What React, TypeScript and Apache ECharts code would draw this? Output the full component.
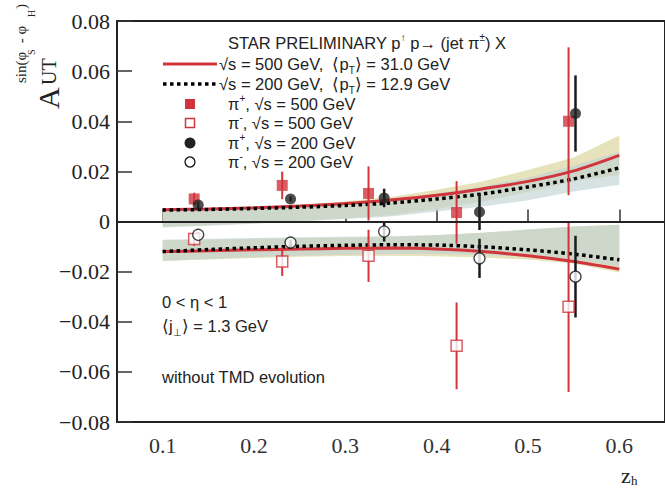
import React, { useEffect, useRef } from "react";
import * as echarts from "echarts";

// ---- data ----
const zGrid = [0.1, 0.15, 0.2, 0.25, 0.3, 0.35, 0.4, 0.45, 0.5, 0.55, 0.6];

const red500Pos = [0.0047, 0.005, 0.0055, 0.0062, 0.0072, 0.0086, 0.0105, 0.013, 0.016, 0.0202, 0.0264];
const black200Pos = [0.0046, 0.0048, 0.0052, 0.0057, 0.0064, 0.0074, 0.009, 0.011, 0.0138, 0.017, 0.0214];
const red500Neg = [-0.012, -0.0117, -0.0113, -0.011, -0.0107, -0.0106, -0.011, -0.012, -0.0137, -0.016, -0.019];
const black200Neg = [-0.012, -0.0112, -0.0105, -0.0099, -0.0095, -0.0093, -0.0094, -0.0101, -0.0113, -0.013, -0.0153];

const yellowPosUpper = [0.005, 0.0054, 0.006, 0.0068, 0.008, 0.0098, 0.0127, 0.016, 0.0205, 0.0255, 0.0343];
const yellowPosLower = [-0.0022, -0.0015, -0.0007, 0.0002, 0.0012, 0.0025, 0.005, 0.008, 0.0118, 0.016, 0.0187];
const bluePosUpper = [0.005, 0.0053, 0.0058, 0.0064, 0.0074, 0.0088, 0.0112, 0.014, 0.0175, 0.0222, 0.0278];
const bluePosLower = [-0.0024, -0.0017, -0.0009, 0.0, 0.001, 0.002, 0.004, 0.006, 0.0085, 0.012, 0.0147];

const yellowNegUpper = [-0.0075, -0.0072, -0.0069, -0.0066, -0.0064, -0.0061, -0.0055, -0.0045, -0.0032, -0.002, -0.0013];
const yellowNegLower = [-0.0158, -0.0152, -0.0146, -0.0141, -0.0138, -0.0137, -0.0139, -0.0144, -0.0152, -0.0168, -0.0203];
const blueNegUpper = [-0.0073, -0.0069, -0.0066, -0.0063, -0.0061, -0.0059, -0.0054, -0.0045, -0.0032, -0.002, -0.0013];
const blueNegLower = [-0.0158, -0.015, -0.0143, -0.0137, -0.0133, -0.013, -0.013, -0.0134, -0.014, -0.0152, -0.018];

const z500 = [0.1345, 0.2309, 0.3254, 0.4218, 0.5444];
const piPlus500 = [0.009, 0.0144, 0.0112, 0.0036, 0.04];
const piPlus500Err = [0.0025, 0.0055, 0.0108, 0.0125, 0.0295];
const piMinus500 = [-0.007, -0.016, -0.0137, -0.0496, -0.034];
const piMinus500Err = [0.0027, 0.0057, 0.0104, 0.0173, 0.034];

const z200 = [0.1389, 0.24, 0.3425, 0.4469, 0.552];
const piPlus200 = [0.0066, 0.009, 0.0094, 0.0038, 0.0431];
const piPlus200Err = [0.0012, 0.001, 0.0037, 0.0072, 0.0152];
const piMinus200 = [-0.0053, -0.0084, -0.004, -0.0147, -0.022];
const piMinus200Err = [0.001, 0.001, 0.004, 0.0078, 0.0163];

const xTicks = [0.1, 0.2, 0.3, 0.4, 0.5, 0.6];

const RED = "#d0353c";
const BLACK = "#1a1a1a";
const SANS = "'Liberation Sans', Arial, sans-serif";
const SERIF = "'Liberation Serif', 'Times New Roman', serif";

function bandSeries(upper: number[], lower: number[], fill: string, z: number) {
  const rows = zGrid.map((x, i) => [x, lower[i], upper[i]]);
  return {
    type: "custom",
    data: rows,
    encode: { x: 0, y: [1, 2] },
    z,
    silent: true,
    renderItem: (params: any, api: any) => {
      if (params.dataIndex !== 0) return null;
      const pts: number[][] = [];
      rows.forEach((r) => pts.push(api.coord([r[0], r[2]])));
      for (let i = rows.length - 1; i >= 0; i--) pts.push(api.coord([rows[i][0], rows[i][1]]));
      return { type: "polygon", shape: { points: pts }, style: { fill } };
    },
  };
}

function curveSeries(vals: number[], color: string, dashed: boolean, z: number, extra: any = {}) {
  return {
    type: "line",
    data: zGrid.map((x, i) => [x, vals[i]]),
    smooth: 0.3,
    showSymbol: false,
    silent: true,
    z,
    lineStyle: dashed
      ? { color, width: 3.5, type: [3.5, 3.5], cap: "butt" }
      : { color, width: 3 },
    ...extra,
  };
}

function errSeries(xs: number[], ys: number[], es: number[], color: string, width: number) {
  return {
    type: "custom",
    data: xs.map((x, i) => [x, ys[i], es[i]]),
    encode: { x: 0, y: 1 },
    z: 4,
    silent: true,
    renderItem: (_p: any, api: any) => {
      const x = api.value(0), y = api.value(1), e = api.value(2);
      const a = api.coord([x, y + e]);
      const b = api.coord([x, y - e]);
      return { type: "line", shape: { x1: a[0], y1: a[1], x2: b[0], y2: b[1] }, style: { stroke: color, lineWidth: width } };
    },
  };
}

function markerSeries(xs: number[], ys: number[], symbol: string, itemStyle: any, size: number) {
  return {
    type: "scatter",
    data: xs.map((x, i) => [x, ys[i]]),
    symbol,
    symbolSize: size,
    itemStyle,
    z: 6,
    silent: true,
  };
}

const richLegend = {
  sup: { fontSize: 10, fontFamily: SANS, fill: "#222", verticalAlign: "top", lineHeight: 12 },
  sub: { fontSize: 10, fontFamily: SANS, fill: "#222", verticalAlign: "bottom", lineHeight: 12 },
};

function legText(x: number, y: number, text: string) {
  return {
    type: "text",
    x,
    y,
    style: {
      text,
      fontSize: 16.5,
      fontFamily: SANS,
      fill: "#222",
      verticalAlign: "middle",
      align: "left",
      lineHeight: 22,
      rich: richLegend,
    },
  };
}

function rotText(x: number, y: number, text: string, size: number) {
  return {
    type: "text",
    x,
    y,
    rotation: Math.PI / 2,
    style: { text, fontSize: size, fontFamily: SERIF, fill: "#222", align: "left", verticalAlign: "middle" },
  };
}

export default function App() {
  const ref = useRef<HTMLDivElement>(null);
  useEffect(() => {
    const chart = echarts.init(ref.current!, null, { renderer: "svg" });
    const option: any = {
      animation: false,
      backgroundColor: "#fff",
      grid: { left: 117, right: -3, top: 21, bottom: 67, show: true, borderColor: "#222", borderWidth: 2 },
      xAxis: {
        type: "value",
        min: 0.05,
        max: 0.65,
        axisLine: { show: true, lineStyle: { color: "#222", width: 2 } },
        axisTick: { show: true, inside: true, length: 12, customValues: xTicks, lineStyle: { color: "#333", width: 1.5 } },
        axisLabel: {
          customValues: xTicks,
          margin: 12,
          fontSize: 22,
          fontFamily: SERIF,
          color: "#333",
          formatter: (v: number) => v.toFixed(1),
        },
        splitLine: { show: false },
      },
      yAxis: {
        type: "value",
        min: -0.08,
        max: 0.08,
        interval: 0.02,
        axisLine: { show: true, lineStyle: { color: "#222", width: 2 } },
        axisTick: { show: true, inside: true, length: 15, lineStyle: { color: "#333", width: 1.5 } },
        axisLabel: {
          margin: 7,
          fontSize: 22,
          fontFamily: SERIF,
          color: "#222",
          formatter: (v: number) => (Math.abs(v) < 1e-9 ? "0" : v.toFixed(2).replace("-", "\u2212")),
        },
        splitLine: { show: false },
      },
      series: [
        bandSeries(yellowPosUpper, yellowPosLower, "#e6e2bb", 1),
        bandSeries(yellowNegUpper, yellowNegLower, "#e6e2bb", 1),
        bandSeries(bluePosUpper, bluePosLower, "rgba(194,211,211,0.65)", 2),
        bandSeries(blueNegUpper, blueNegLower, "rgba(194,211,211,0.65)", 2),
        curveSeries(red500Pos, RED, false, 3, {
          markLine: {
            silent: true,
            symbol: "none",
            label: { show: false },
            lineStyle: { color: "#222", width: 2, type: "solid" },
            data: [{ yAxis: 0 }],
          },
        }),
        curveSeries(red500Neg, RED, false, 3),
        curveSeries(black200Pos, "#000", true, 3),
        curveSeries(black200Neg, "#000", true, 3),
        errSeries(z500, piPlus500, piPlus500Err, RED, 2),
        errSeries(z500, piMinus500, piMinus500Err, RED, 2),
        errSeries(z200, piPlus200, piPlus200Err, BLACK, 2.5),
        errSeries(z200, piMinus200, piMinus200Err, BLACK, 2.5),
        markerSeries(z500, piPlus500, "rect", { color: RED }, 11),
        markerSeries(z500, piMinus500, "rect", { color: "#fff", borderColor: RED, borderWidth: 1.5 }, 11),
        markerSeries(z200, piPlus200, "circle", { color: "#222" }, 11),
        markerSeries(z200, piMinus200, "circle", { color: "#fff", borderColor: "#111", borderWidth: 1.3 }, 11),
      ],
      graphic: [
        // y-axis title
        rotText(48, 109, "A", 30),
        rotText(49, 85, "UT", 20),
        rotText(21, 83, "sin(\u03c6", 15),
        rotText(31, 55, "S", 10),
        rotText(21, 47, " - \u03c6", 15),
        rotText(31, 17, "H", 10),
        rotText(21, 9, ")", 15),
        // x-axis title
        { type: "text", x: 621, y: 475, style: { text: "z", fontSize: 22, fontFamily: SERIF, fill: "#222", verticalAlign: "middle" } },
        { type: "text", x: 631, y: 480, style: { text: "h", fontSize: 13, fontFamily: SERIF, fill: "#222", verticalAlign: "middle" } },
        // legend
        legText(228, 43, "STAR PRELIMINARY p{sup|\u2191} p\u2192 (jet \u03c0{sup|\u00b1}) X"),
        { type: "line", shape: { x1: 163, y1: 64, x2: 217, y2: 64 }, style: { stroke: RED, lineWidth: 3 } },
        legText(219, 64, "\u221as = 500 GeV,  \u27e8p{sub|T}\u27e9 = 31.0 GeV"),
        { type: "line", shape: { x1: 163, y1: 84, x2: 217, y2: 84 }, style: { stroke: "#000", lineWidth: 3.5, lineDash: [3.5, 3.5] } },
        legText(219, 84, "\u221as = 200 GeV,  \u27e8p{sub|T}\u27e9 = 12.9 GeV"),
        { type: "rect", shape: { x: 185, y: 99, width: 10, height: 10 }, style: { fill: RED } },
        legText(228, 104, "\u03c0{sup|+}, \u221as = 500 GeV"),
        { type: "rect", shape: { x: 185.5, y: 118.5, width: 9, height: 9 }, style: { fill: "#fff", stroke: RED, lineWidth: 1.5 } },
        legText(228, 123, "\u03c0{sup|-}, \u221as = 500 GeV"),
        { type: "circle", shape: { cx: 190, cy: 143, r: 5.5 }, style: { fill: "#222" } },
        legText(228, 143, "\u03c0{sup|+}, \u221as = 200 GeV"),
        { type: "circle", shape: { cx: 190, cy: 162, r: 5 }, style: { fill: "#fff", stroke: "#111", lineWidth: 1.3 } },
        legText(228, 162, "\u03c0{sup|-}, \u221as = 200 GeV"),
        // annotation
        legText(162, 302, "0 < \u03b7 < 1"),
        legText(162, 326, "\u27e8j{sub|\u22a5}\u27e9 = 1.3 GeV"),
        legText(162, 377, "without TMD evolution"),
      ],
    };
    chart.setOption(option);
    return () => chart.dispose();
  }, []);
  return (
    <div
      ref={ref}
      style={{ position: "fixed", left: 0, top: 0, width: 665, height: 489, background: "#fff" }}
    />
  );
}
